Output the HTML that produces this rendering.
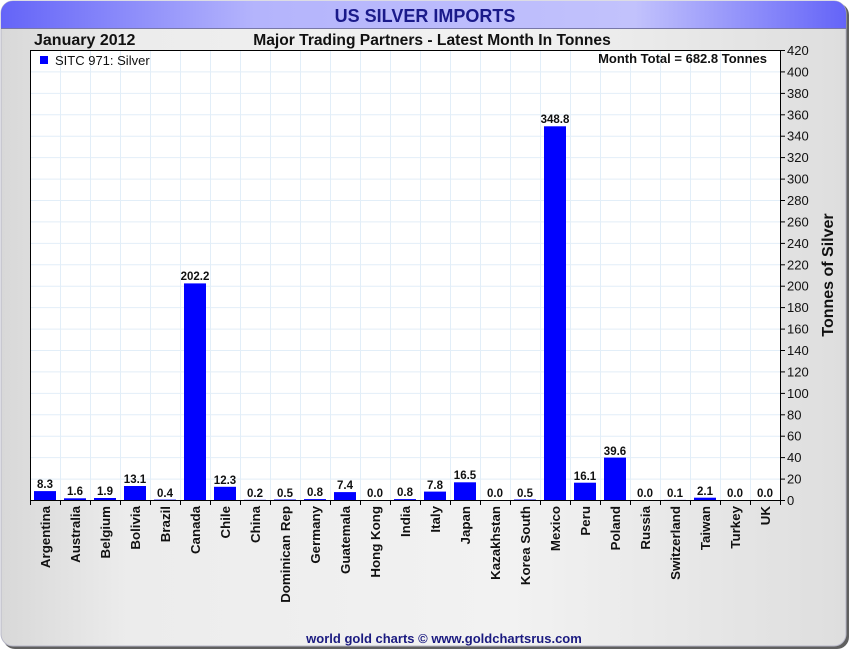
<!DOCTYPE html>
<html><head><meta charset="utf-8"><style>
html,body{margin:0;padding:0;background:#fff;}
svg{display:block;font-family:"Liberation Sans",Arial,sans-serif;}
</style></head><body>
<svg width="850" height="650" viewBox="0 0 850 650" xmlns="http://www.w3.org/2000/svg">
<defs>
<linearGradient id="tb" x1="0" x2="1" y1="0" y2="0">
<stop offset="0" stop-color="#6464f8"/><stop offset="0.3" stop-color="#b4b4fc"/><stop offset="0.75" stop-color="#c2c2fc"/><stop offset="1" stop-color="#6464f8"/>
</linearGradient>
<linearGradient id="bg" x1="0" x2="1" y1="0" y2="0">
<stop offset="0" stop-color="#d8d8d8"/><stop offset="0.15" stop-color="#ececec"/><stop offset="0.6" stop-color="#f2f2f2"/><stop offset="1" stop-color="#dedede"/>
</linearGradient>
</defs>
<rect x="0" y="0" width="850" height="650" fill="#fff"/>
<rect x="3" y="3" width="846" height="646" rx="12" fill="#606060"/>
<rect x="1" y="1" width="845" height="645" rx="12" fill="url(#bg)" stroke="#b8b8c8" stroke-width="1"/>
<path d="M1,28 L1,13 A12,12 0 0 1 13,1 L834,1 A12,12 0 0 1 846,13 L846,28 Z" fill="url(#tb)"/>
<line x1="1" y1="28.5" x2="846" y2="28.5" stroke="#7878a8"/>
<text x="425" y="22" text-anchor="middle" font-size="18" font-weight="bold" fill="#1a1a8a">US SILVER IMPORTS</text>
<text x="34" y="45" font-size="16" font-weight="bold" fill="#111">January 2012</text>
<text x="432" y="45" text-anchor="middle" font-size="15.6" font-weight="bold" fill="#111">Major Trading Partners - Latest Month In Tonnes</text>
<rect x="30.5" y="50.5" width="750" height="450" fill="#fff" stroke="#000"/>
<g stroke="#e2eef8" stroke-width="1">
<line x1="60.5" y1="51" x2="60.5" y2="500"/><line x1="90.5" y1="51" x2="90.5" y2="500"/><line x1="120.5" y1="51" x2="120.5" y2="500"/><line x1="150.5" y1="51" x2="150.5" y2="500"/><line x1="180.5" y1="51" x2="180.5" y2="500"/><line x1="210.5" y1="51" x2="210.5" y2="500"/><line x1="240.5" y1="51" x2="240.5" y2="500"/><line x1="270.5" y1="51" x2="270.5" y2="500"/><line x1="300.5" y1="51" x2="300.5" y2="500"/><line x1="330.5" y1="51" x2="330.5" y2="500"/><line x1="360.5" y1="51" x2="360.5" y2="500"/><line x1="390.5" y1="51" x2="390.5" y2="500"/><line x1="420.5" y1="51" x2="420.5" y2="500"/><line x1="450.5" y1="51" x2="450.5" y2="500"/><line x1="480.5" y1="51" x2="480.5" y2="500"/><line x1="510.5" y1="51" x2="510.5" y2="500"/><line x1="540.5" y1="51" x2="540.5" y2="500"/><line x1="570.5" y1="51" x2="570.5" y2="500"/><line x1="600.5" y1="51" x2="600.5" y2="500"/><line x1="630.5" y1="51" x2="630.5" y2="500"/><line x1="660.5" y1="51" x2="660.5" y2="500"/><line x1="690.5" y1="51" x2="690.5" y2="500"/><line x1="720.5" y1="51" x2="720.5" y2="500"/><line x1="750.5" y1="51" x2="750.5" y2="500"/>
<line x1="31" y1="479.1" x2="780" y2="479.1"/><line x1="31" y1="457.6" x2="780" y2="457.6"/><line x1="31" y1="436.2" x2="780" y2="436.2"/><line x1="31" y1="414.8" x2="780" y2="414.8"/><line x1="31" y1="393.4" x2="780" y2="393.4"/><line x1="31" y1="371.9" x2="780" y2="371.9"/><line x1="31" y1="350.5" x2="780" y2="350.5"/><line x1="31" y1="329.1" x2="780" y2="329.1"/><line x1="31" y1="307.6" x2="780" y2="307.6"/><line x1="31" y1="286.2" x2="780" y2="286.2"/><line x1="31" y1="264.8" x2="780" y2="264.8"/><line x1="31" y1="243.4" x2="780" y2="243.4"/><line x1="31" y1="221.9" x2="780" y2="221.9"/><line x1="31" y1="200.5" x2="780" y2="200.5"/><line x1="31" y1="179.1" x2="780" y2="179.1"/><line x1="31" y1="157.6" x2="780" y2="157.6"/><line x1="31" y1="136.2" x2="780" y2="136.2"/><line x1="31" y1="114.8" x2="780" y2="114.8"/><line x1="31" y1="93.4" x2="780" y2="93.4"/><line x1="31" y1="71.9" x2="780" y2="71.9"/>
</g>
<rect x="30.5" y="50.5" width="750" height="450" fill="none" stroke="#000"/>
<rect x="40" y="56" width="8" height="8" fill="#0000ff"/>
<text x="55" y="65" font-size="13" fill="#111">SITC 971: Silver</text>
<text x="767" y="63" text-anchor="end" font-size="13" font-weight="bold" fill="#111">Month Total = 682.8 Tonnes</text>
<g fill="#0000ff">
<rect x="34" y="491.1" width="22" height="8.9"/><rect x="64" y="498.3" width="22" height="1.7"/><rect x="94" y="498" width="22" height="2"/><rect x="124" y="486" width="22" height="14"/><rect x="154" y="499.6" width="22" height="0.4"/><rect x="184" y="283.4" width="22" height="216.6"/><rect x="214" y="486.8" width="22" height="13.2"/><rect x="244" y="499.8" width="22" height="0.2"/><rect x="274" y="499.5" width="22" height="0.5"/><rect x="304" y="499.1" width="22" height="0.9"/><rect x="334" y="492.1" width="22" height="7.9"/><rect x="394" y="499.1" width="22" height="0.9"/><rect x="424" y="491.6" width="22" height="8.4"/><rect x="454" y="482.3" width="22" height="17.7"/><rect x="514" y="499.5" width="22" height="0.5"/><rect x="544" y="126.3" width="22" height="373.7"/><rect x="574" y="482.7" width="22" height="17.3"/><rect x="604" y="457.6" width="22" height="42.4"/><rect x="664" y="499.9" width="22" height="0.1"/><rect x="694" y="497.7" width="22" height="2.3"/>
</g>
<g font-size="11.5" font-weight="bold" fill="#111" text-anchor="middle">
<text x="45" y="488">8.3</text><text x="75" y="495">1.6</text><text x="105" y="495">1.9</text><text x="135" y="483">13.1</text><text x="165" y="497">0.4</text><text x="195" y="280">202.2</text><text x="225" y="484">12.3</text><text x="255" y="497">0.2</text><text x="285" y="497">0.5</text><text x="315" y="496">0.8</text><text x="345" y="489">7.4</text><text x="375" y="497">0.0</text><text x="405" y="496">0.8</text><text x="435" y="489">7.8</text><text x="465" y="479">16.5</text><text x="495" y="497">0.0</text><text x="525" y="497">0.5</text><text x="555" y="123">348.8</text><text x="585" y="480">16.1</text><text x="615" y="455">39.6</text><text x="645" y="497">0.0</text><text x="675" y="497">0.1</text><text x="705" y="495">2.1</text><text x="735" y="497">0.0</text><text x="765" y="497">0.0</text>
</g>
<g stroke="#000">
<line x1="30.5" y1="500" x2="30.5" y2="505"/><line x1="60.5" y1="500" x2="60.5" y2="505"/><line x1="90.5" y1="500" x2="90.5" y2="505"/><line x1="120.5" y1="500" x2="120.5" y2="505"/><line x1="150.5" y1="500" x2="150.5" y2="505"/><line x1="180.5" y1="500" x2="180.5" y2="505"/><line x1="210.5" y1="500" x2="210.5" y2="505"/><line x1="240.5" y1="500" x2="240.5" y2="505"/><line x1="270.5" y1="500" x2="270.5" y2="505"/><line x1="300.5" y1="500" x2="300.5" y2="505"/><line x1="330.5" y1="500" x2="330.5" y2="505"/><line x1="360.5" y1="500" x2="360.5" y2="505"/><line x1="390.5" y1="500" x2="390.5" y2="505"/><line x1="420.5" y1="500" x2="420.5" y2="505"/><line x1="450.5" y1="500" x2="450.5" y2="505"/><line x1="480.5" y1="500" x2="480.5" y2="505"/><line x1="510.5" y1="500" x2="510.5" y2="505"/><line x1="540.5" y1="500" x2="540.5" y2="505"/><line x1="570.5" y1="500" x2="570.5" y2="505"/><line x1="600.5" y1="500" x2="600.5" y2="505"/><line x1="630.5" y1="500" x2="630.5" y2="505"/><line x1="660.5" y1="500" x2="660.5" y2="505"/><line x1="690.5" y1="500" x2="690.5" y2="505"/><line x1="720.5" y1="500" x2="720.5" y2="505"/><line x1="750.5" y1="500" x2="750.5" y2="505"/><line x1="780.5" y1="500" x2="780.5" y2="505"/>
<line x1="780" y1="500.5" x2="785" y2="500.5"/><line x1="780" y1="479.1" x2="785" y2="479.1"/><line x1="780" y1="457.6" x2="785" y2="457.6"/><line x1="780" y1="436.2" x2="785" y2="436.2"/><line x1="780" y1="414.8" x2="785" y2="414.8"/><line x1="780" y1="393.4" x2="785" y2="393.4"/><line x1="780" y1="371.9" x2="785" y2="371.9"/><line x1="780" y1="350.5" x2="785" y2="350.5"/><line x1="780" y1="329.1" x2="785" y2="329.1"/><line x1="780" y1="307.6" x2="785" y2="307.6"/><line x1="780" y1="286.2" x2="785" y2="286.2"/><line x1="780" y1="264.8" x2="785" y2="264.8"/><line x1="780" y1="243.4" x2="785" y2="243.4"/><line x1="780" y1="221.9" x2="785" y2="221.9"/><line x1="780" y1="200.5" x2="785" y2="200.5"/><line x1="780" y1="179.1" x2="785" y2="179.1"/><line x1="780" y1="157.6" x2="785" y2="157.6"/><line x1="780" y1="136.2" x2="785" y2="136.2"/><line x1="780" y1="114.8" x2="785" y2="114.8"/><line x1="780" y1="93.4" x2="785" y2="93.4"/><line x1="780" y1="71.9" x2="785" y2="71.9"/><line x1="780" y1="50.5" x2="785" y2="50.5"/>
</g>
<g font-size="13" fill="#111">
<text x="787" y="505">0</text><text x="787" y="483.6">20</text><text x="787" y="462.1">40</text><text x="787" y="440.7">60</text><text x="787" y="419.3">80</text><text x="787" y="397.9">100</text><text x="787" y="376.4">120</text><text x="787" y="355">140</text><text x="787" y="333.6">160</text><text x="787" y="312.1">180</text><text x="787" y="290.7">200</text><text x="787" y="269.3">220</text><text x="787" y="247.9">240</text><text x="787" y="226.4">260</text><text x="787" y="205">280</text><text x="787" y="183.6">300</text><text x="787" y="162.1">320</text><text x="787" y="140.7">340</text><text x="787" y="119.3">360</text><text x="787" y="97.9">380</text><text x="787" y="76.4">400</text><text x="787" y="55">420</text>
</g>
<text transform="translate(833,275) rotate(-90)" text-anchor="middle" font-size="16" font-weight="bold" fill="#111">Tonnes of Silver</text>
<g font-size="13.3" font-weight="bold" fill="#111" text-anchor="end">
<text transform="translate(50,506) rotate(-90)">Argentina</text>
<text transform="translate(80,506) rotate(-90)">Australia</text>
<text transform="translate(110,506) rotate(-90)">Belgium</text>
<text transform="translate(140,506) rotate(-90)">Bolivia</text>
<text transform="translate(170,506) rotate(-90)">Brazil</text>
<text transform="translate(200,506) rotate(-90)">Canada</text>
<text transform="translate(230,506) rotate(-90)">Chile</text>
<text transform="translate(260,506) rotate(-90)">China</text>
<text transform="translate(290,506) rotate(-90)">Dominican Rep</text>
<text transform="translate(320,506) rotate(-90)">Germany</text>
<text transform="translate(350,506) rotate(-90)">Guatemala</text>
<text transform="translate(380,506) rotate(-90)">Hong Kong</text>
<text transform="translate(410,506) rotate(-90)">India</text>
<text transform="translate(440,506) rotate(-90)">Italy</text>
<text transform="translate(470,506) rotate(-90)">Japan</text>
<text transform="translate(500,506) rotate(-90)">Kazakhstan</text>
<text transform="translate(530,506) rotate(-90)">Korea South</text>
<text transform="translate(560,506) rotate(-90)">Mexico</text>
<text transform="translate(590,506) rotate(-90)">Peru</text>
<text transform="translate(620,506) rotate(-90)">Poland</text>
<text transform="translate(650,506) rotate(-90)">Russia</text>
<text transform="translate(680,506) rotate(-90)">Switzerland</text>
<text transform="translate(710,506) rotate(-90)">Taiwan</text>
<text transform="translate(740,506) rotate(-90)">Turkey</text>
<text transform="translate(770,506) rotate(-90)">UK</text>
</g>
<text x="444" y="643" text-anchor="middle" font-size="13" font-weight="bold" fill="#1a1a80">world gold charts © www.goldchartsrus.com</text>
</svg>
</body></html>
